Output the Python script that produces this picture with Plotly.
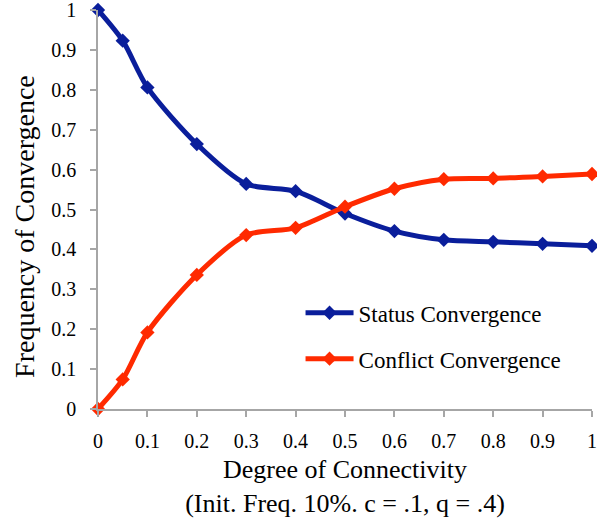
import plotly.graph_objects as go

x_vals = [0, 0.05, 0.1, 0.2, 0.3, 0.4, 0.5, 0.6, 0.7, 0.8, 0.9, 1.0]
status = [1.0, 0.923, 0.806, 0.664, 0.564, 0.546, 0.490, 0.446, 0.424, 0.419, 0.414, 0.409]
conflict = [0.0, 0.074, 0.192, 0.336, 0.436, 0.454, 0.507, 0.552, 0.576, 0.578, 0.583, 0.589]
x_ticks = [0, 0.1, 0.2, 0.3, 0.4, 0.5, 0.6, 0.7, 0.8, 0.9, 1]
x_tick_labels = ["0", "0.1", "0.2", "0.3", "0.4", "0.5", "0.6", "0.7", "0.8", "0.9", "1"]
y_ticks = [0, 0.1, 0.2, 0.3, 0.4, 0.5, 0.6, 0.7, 0.8, 0.9, 1]
y_tick_labels = ["0", "0.1", "0.2", "0.3", "0.4", "0.5", "0.6", "0.7", "0.8", "0.9", "1"]

FONT = "Liberation Serif, DejaVu Serif, serif"
BLUE = "#0A1E9B"
RED = "#FF2A00"

fig = go.Figure()
fig.add_trace(go.Scatter(
    x=x_vals, y=status, name="Status Convergence", mode="lines+markers",
    line=dict(color=BLUE, width=5, shape="spline", smoothing=0.8),
    marker=dict(symbol="diamond", size=11, color=BLUE),
    cliponaxis=False, legendgroup="a"))
fig.add_trace(go.Scatter(
    x=x_vals, y=conflict, name="Conflict Convergence", mode="lines+markers",
    line=dict(color=RED, width=5, shape="spline", smoothing=0.8),
    marker=dict(symbol="diamond", size=11, color=RED),
    cliponaxis=False, legendgroup="b"))

fig.update_layout(
    width=597, height=525,
    margin=dict(l=98, r=5, t=10, b=116),
    plot_bgcolor="white", paper_bgcolor="white",
    font=dict(family=FONT, color="black", size=20),
    xaxis=dict(
        range=[0, 1], tickmode="array", tickvals=x_ticks, ticktext=x_tick_labels,
        showgrid=False, zeroline=False, showline=True, linecolor="#A6A6A6", linewidth=1.5,
        ticks="outside", ticklen=6, tickcolor="#A6A6A6", tickwidth=1.5,
        ticklabelstandoff=7, tickfont=dict(size=20), automargin=False,
        ticklabeloverflow="allow",
        title=dict(text="Degree of Connectivity<br>(Init. Freq. 10%. c = .1, q = .4)",
                   font=dict(size=26), standoff=9)),
    yaxis=dict(
        range=[0, 1], tickmode="array", tickvals=y_ticks, ticktext=y_tick_labels,
        showgrid=False, zeroline=False, showline=True, linecolor="#A6A6A6", linewidth=1.5,
        ticks="outside", ticklen=6, tickcolor="#A6A6A6", tickwidth=1.5,
        ticklabelstandoff=10, tickfont=dict(size=20), automargin=False,
        ticklabeloverflow="allow"),
    annotations=[dict(text="Frequency of Convergence", textangle=-90,
                      xref="paper", yref="paper", x=-0.15, y=0.4586,
                      xanchor="center", yanchor="middle", showarrow=False,
                      font=dict(size=28))],
    legend=dict(x=0.41, y=0.295, xanchor="left", yanchor="top",
                bgcolor="rgba(0,0,0,0)", font=dict(size=23), tracegroupgap=13,
                itemwidth=48),
)

fig.write_html("out.html", config={"displayModeBar": False},
               post_script="document.body.style.margin='0';")
